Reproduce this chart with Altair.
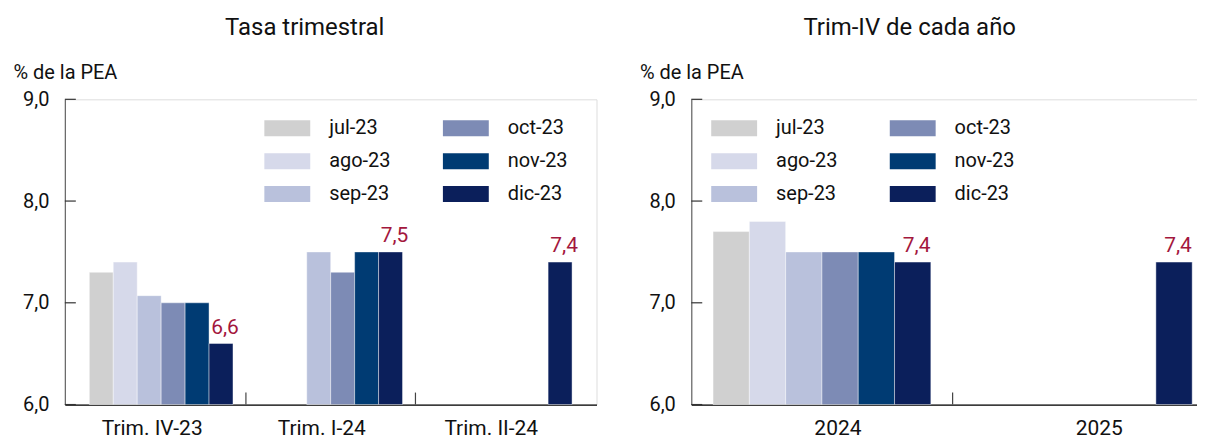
import altair as alt
import pandas as pd

# ---------------- data ----------------
months = ["jul-23", "ago-23", "sep-23", "oct-23", "nov-23", "dic-23"]
month_colors = ["#d0d0d0", "#d6d9ea", "#b9c1dc", "#7d8bb5", "#003b73", "#0b1f5b"]

cats_left = ["Trim. IV-23", "Trim. I-24", "Trim. II-24"]
left_jul = [7.3, None, None]
left_ago = [7.4, None, None]
left_sep = [7.07, 7.5, None]
left_oct = [7.0, 7.3, None]
left_nov = [7.0, 7.5, None]
left_dic = [6.6, 7.5, 7.4]

cats_right = ["2024", "2025"]
right_jul = [7.7, None]
right_ago = [7.8, None]
right_sep = [7.5, None]
right_oct = [7.5, None]
right_nov = [7.5, None]
right_dic = [7.4, 7.4]

y_ticks = [6.0, 7.0, 8.0, 9.0]
Y_MIN, Y_MAX = 6.0, 9.0

LABEL_RED = "#a3173d"
TXT = "#111111"
FONT = "Roboto"
H = 306


def table(cats, series):
    rows = []
    for m, vals in zip(months, series):
        for c, v in zip(cats, vals):
            if v is not None:
                rows.append({"cat": c, "mes": m, "valor": v})
    return pd.DataFrame(rows)


def panel(cats, series, width, title, legend_x, x_pad_outer, off_pad, title_dx,
          xlabel_offset):
    df = table(cats, series)
    xscale = alt.Scale(domain=cats, paddingInner=0, paddingOuter=x_pad_outer)
    yscale = alt.Scale(domain=[Y_MIN, Y_MAX], zero=False, nice=False)
    offscale = alt.Scale(domain=months, paddingInner=0, paddingOuter=off_pad)
    x = alt.X("cat:N", sort=cats, scale=xscale,
              axis=alt.Axis(title=None, ticks=False,
                            domainColor="#000000", domainWidth=1.2,
                            labelFontSize=21, labelColor=TXT,
                            labelPadding=13, labelAngle=0, labelFont=FONT,
                            labelOffset=xlabel_offset))
    y = alt.Y("valor:Q", scale=yscale,
              axis=alt.Axis(values=y_ticks, ticks=False, grid=False,
                            domainColor="#666666", domainWidth=1.2,
                            labelExpr="replace(format(datum.value, '.1f'), '.', ',')",
                            labelFontSize=20, labelColor=TXT, labelPadding=16,
                            labelFont=FONT,
                            title="% de la PEA", titleAngle=0, titleAlign="left",
                            titleBaseline="alphabetic", titleX=-52, titleY=-21,
                            titleFontSize=20, titleFontWeight="normal",
                            titleColor=TXT, titleFont=FONT))
    bars = alt.Chart(df).mark_bar(stroke="white", strokeWidth=0.6, strokeOpacity=0.7).encode(
        x=x,
        xOffset=alt.XOffset("mes:N", sort=months, scale=offscale),
        y=y,
        y2=alt.datum(Y_MIN),
        color=alt.Color("mes:N",
                        scale=alt.Scale(domain=months, range=month_colors),
                        legend=alt.Legend(title=None, orient="none", legendX=legend_x,
                                          legendY=6, columns=2,
                                          symbolType="M-1,-0.35L1,-0.35L1,0.35L-1,0.35Z",
                                          symbolSize=2116, symbolStrokeWidth=0,
                                          symbolOpacity=1,
                                          labelFontSize=20, labelColor=TXT, labelFont=FONT,
                                          labelOffset=19, rowPadding=-12,
                                          columnPadding=52, labelLimit=200)),
    )
    labels = alt.Chart(df).transform_filter(
        alt.datum.mes == "dic-23"
    ).transform_calculate(
        lab="replace(format(datum.valor, '.1f'), '.', ',')"
    ).mark_text(color=LABEL_RED, fontSize=21, font=FONT, dy=-10, dx=4,
                baseline="alphabetic").encode(
        x=alt.X("cat:N", sort=cats, scale=xscale),
        xOffset=alt.XOffset("mes:N", sort=months, scale=offscale),
        y=alt.Y("valor:Q", scale=yscale),
        text="lab:N",
    )
    sep_df = pd.DataFrame({"cat": cats[1:]})
    xtick = alt.Chart(sep_df).mark_rule(color="#444444", strokeWidth=1.2).encode(
        x=alt.X("cat:N", sort=cats, scale=xscale, bandPosition=0),
        y=alt.value(H - 12),
        y2=alt.value(H),
    )
    tick_df = pd.DataFrame({"t": y_ticks})
    ytick = alt.Chart(tick_df).mark_rule(color="#333333", strokeWidth=1.2).encode(
        y=alt.Y("t:Q", scale=yscale),
        x=alt.value(0),
        x2=alt.value(11),
    )
    return alt.layer(bars, labels, xtick, ytick).properties(
        width=width, height=H,
        title=alt.TitleParams(title, fontSize=24, fontWeight="normal", color=TXT,
                              font=FONT, anchor="middle", frame="bounds", offset=22,
                              dx=title_dx),
    )


left = panel(cats_left, [left_jul, left_ago, left_sep, left_oct, left_nov, left_dic],
             533, "Tasa trimestral", 200, 0.068, 0.54, 0, -9)
right = panel(cats_right, [right_jul, right_ago, right_sep, right_oct, right_nov, right_dic],
              524, "Trim-IV de cada año", 20, 0, 0.6, -17, 16)

chart = alt.hconcat(left, right, spacing=41).resolve_scale(
    xOffset="independent", x="independent"
).resolve_legend(
    color="independent"
).properties(
    padding={"left": 4, "top": 7, "right": -18, "bottom": 0}
).configure_view(stroke=None).configure(background="white")

chart.save("out.html", embed_options={"renderer": "svg", "actions": False})
